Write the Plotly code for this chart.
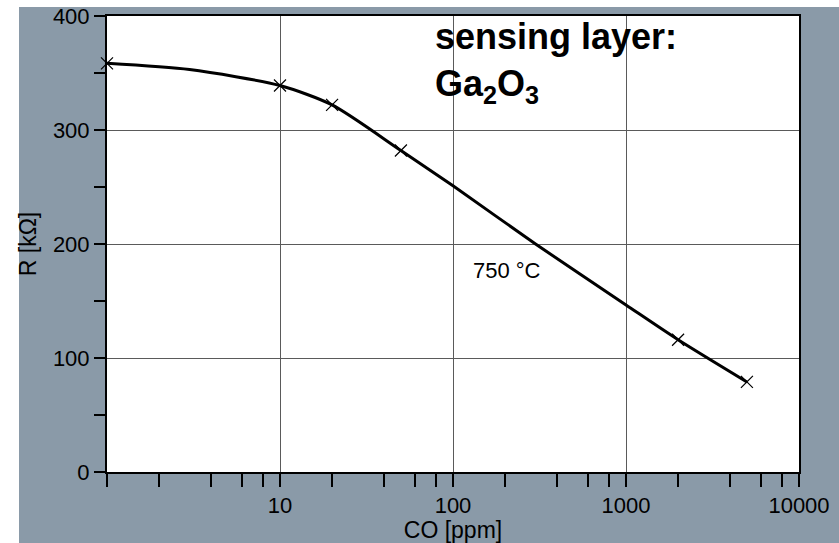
import plotly.graph_objects as go

# Measured points (CO concentration in ppm, resistance in kOhm)
co_points = [1, 10, 20, 50, 2000, 5000]
r_points = [358.5, 339, 322, 282, 116, 79]

# Fitted curve
co_curve = [1, 3, 10, 20, 50, 100, 300, 1000, 2000, 5000]
r_curve = [358.5, 353, 339, 322, 282, 251, 200, 146.5, 116, 79]

x_major = [1, 10, 100, 1000, 10000]
x_major_text = ["", "10", "100", "1000", "10000"]
x_minor = [m * d for d in (1, 10, 100, 1000) for m in (2, 4, 6, 8)]
y_major = [0, 100, 200, 300, 400]
y_minor = [50, 150, 250, 350]

FONT = "Liberation Sans, Arial, Helvetica, sans-serif"
BG = "#8a9aa8"

fig = go.Figure()
fig.add_trace(go.Scatter(x=co_curve, y=r_curve, mode="lines",
                         line=dict(color="black", width=3, shape="spline", smoothing=0.7),
                         hoverinfo="skip", showlegend=False, cliponaxis=False))
fig.add_trace(go.Scatter(x=co_points, y=r_points, mode="markers",
                         marker=dict(symbol="x-thin", size=12, color="black",
                                     line=dict(color="black", width=1.2)),
                         showlegend=False, cliponaxis=False))

fig.update_layout(
    width=839, height=543,
    margin=dict(l=107, r=40, t=16, b=71),
    paper_bgcolor=BG, plot_bgcolor="white",
    font=dict(family=FONT, color="black", size=22),
    xaxis=dict(type="log", range=[0, 4], tickvals=x_major, ticktext=x_major_text,
               ticks="outside", ticklen=13, tickwidth=1.5, tickcolor="black",
               showgrid=True, gridcolor="#5a5a5a", gridwidth=1,
               showline=True, linecolor="black", linewidth=2, mirror=True,
               zeroline=False, tickfont=dict(size=22), automargin=False,
               minor=dict(tickvals=x_minor, ticks="outside", ticklen=13, tickwidth=1.5,
                          tickcolor="black", showgrid=False),
               title=dict(text="CO [ppm]", font=dict(size=23), standoff=4)),
    yaxis=dict(range=[0, 400], tickvals=y_major,
               ticks="outside", ticklen=11, tickwidth=1.5, tickcolor="black",
               showgrid=True, gridcolor="#5a5a5a", gridwidth=1,
               showline=True, linecolor="black", linewidth=2, mirror=True,
               zeroline=False, tickfont=dict(size=22), automargin=False,
               minor=dict(tickvals=y_minor, ticks="outside", ticklen=11, tickwidth=1.5,
                          tickcolor="black", showgrid=False),
               title=dict(text="R [kΩ]", font=dict(size=23), standoff=10)),
    shapes=[
        dict(type="rect", xref="paper", yref="paper", x0=-0.16, x1=(19 - 107) / 692,
             y0=-0.2, y1=1.1, fillcolor="white", line=dict(width=0), layer="above"),
        dict(type="rect", xref="paper", yref="paper", x0=-0.16, x1=1.1,
             y0=1 + 9 / 456, y1=1.1, fillcolor="white", line=dict(width=0), layer="above"),
    ],
    annotations=[
        dict(text="<b>sensing layer:</b>", x=(433 - 107) / 692, y=(472 - 37) / 456,
             xref="paper", yref="paper", xanchor="left", yanchor="middle",
             showarrow=False, font=dict(size=36)),
        dict(text="<b>Ga<sub>2</sub>O<sub>3</sub></b>", x=(433 - 107) / 692, y=(472 - 86) / 456,
             xref="paper", yref="paper", xanchor="left", yanchor="middle",
             showarrow=False, font=dict(size=36)),
        dict(text="750 °C", x=(471 - 107) / 692, y=(472 - 270) / 456,
             xref="paper", yref="paper", xanchor="left", yanchor="middle",
             showarrow=False, font=dict(size=22)),
    ],
)

fig.write_html("out.html")
